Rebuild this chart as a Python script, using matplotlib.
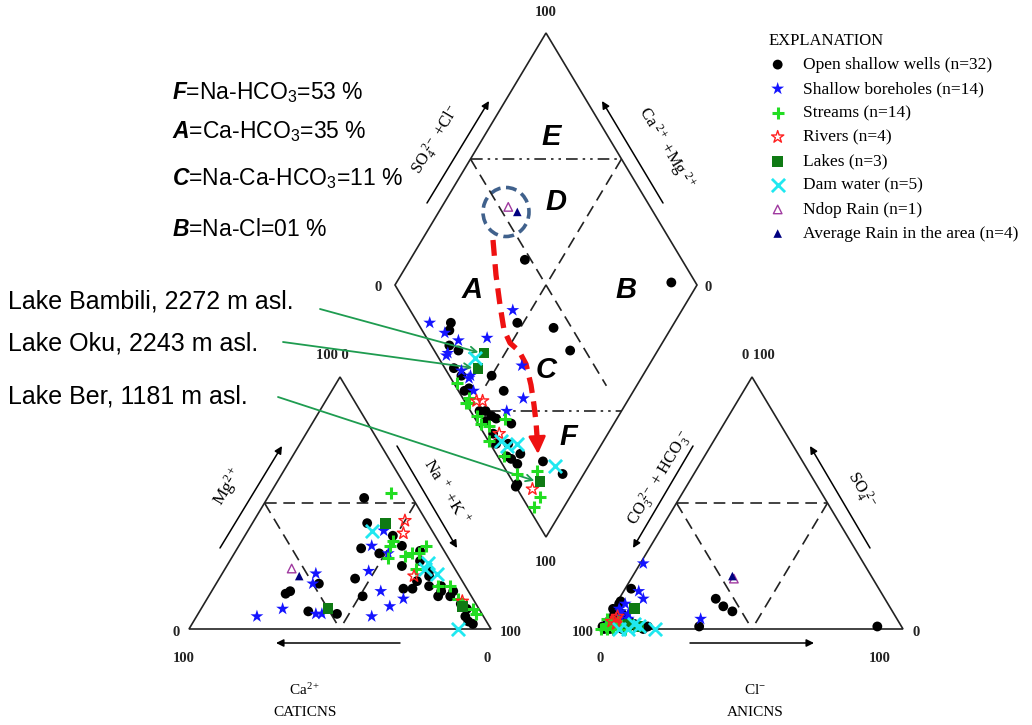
import matplotlib.pyplot as plt
from matplotlib.patches import Polygon, Ellipse
import numpy as np

plt.rcParams['mathtext.fontset'] = 'custom'
plt.rcParams['mathtext.rm'] = 'Liberation Serif'
plt.rcParams['mathtext.it'] = 'Liberation Serif:italic'
plt.rcParams['mathtext.sf'] = 'Liberation Sans'
plt.rcParams['mathtext.bf'] = 'Liberation Sans:italic:bold'

# ---- data (percent of meq) ----
# cation triangle: (Mg, Na+K)   anion triangle: (SO4, Cl)   diamond: (Ca+Mg, SO4+Cl)
wells_cat = [(52, 32), (42, 38), (32, 41), (20, 45), (13, 51), (18, 34), (15, 26), (14, 25),
             (7, 36), (6, 46), (30, 48), (37, 49), (33, 54), (31, 61), (27, 63), (25, 58),
             (16, 63), (16, 66), (17, 71), (17, 75), (15, 76), (13, 76), (13, 80), (3, 91),
             (2, 93), (5, 89), (23, 68), (21, 69), (19, 66), (15, 80), (10, 85), (8, 88)]
wells_an = [(16, 2), (11, 1), (10, 1), (8, 0), (7, 1), (5, 2), (3, 1), (2, 3), (1, 0), (2, 1),
            (1, 5), (0, 3), (1, 15), (0, 14), (1, 32), (1, 91), (12, 32), (9, 36), (7, 40),
            (6, 4), (4, 6), (3, 8), (0, 1), (1, 2), (2, 6), (4, 2), (3, 4), (0, 7), (5, 5),
            (2, 10), (6, 2), (1, 11)]
wells_dia = [(62, 48), (9, 92), (52, 33), (39, 44), (29, 45), (74, 11), (73, 9), (66, 8),
             (64, 3), (50, 14), (55, 4), (43, 15), (47, 3), (42, 6), (34, 11), (40, 7),
             (38, 3), (29, 3), (25, 8), (24, 5), (16, 14), (7, 18), (20, 0), (20, 1),
             (56, 2), (43, 3), (70, 6), (60, 4), (45, 5), (35, 2), (31, 6), (27, 4)]

bore_cat = [(33, 44), (23, 48), (5, 58), (22, 31), (18, 32), (8, 27), (5, 20), (6, 39),
            (6, 41), (39, 45), (30, 51), (15, 56), (12, 65), (9, 62)]
bore_an = [(26, 1), (15, 5), (12, 8), (8, 2), (7, 3), (4, 31), (5, 4), (3, 2), (6, 6),
           (2, 5), (10, 3), (1, 3), (4, 7), (2, 2)]
bore_dia = [(56, 34), (81, 4), (74, 7), (68, 10), (59, 20), (69, 3), (61, 5), (57, 6),
            (53, 5), (42, 26), (35, 20), (38, 12), (69, 4), (57, 7)]

stream_cat = [(54, 40), (33, 50), (28, 52), (29, 57), (30, 59), (33, 62), (24, 63), (17, 78),
              (12, 83), (8, 90), (17, 74), (35, 50), (30, 61), (6, 92)]
stream_an = [(0, 0), (0, 2), (4, 0), (2, 1), (1, 3), (3, 4), (1, 6), (2, 2), (0, 4), (1, 1),
             (3, 2), (0, 8), (2, 5), (1, 9)]
stream_dia = [(60, 1), (53, 0), (52, 1), (44, 1), (41, 3), (37, 10), (38, 0), (16, 10),
              (10, 6), (10, 2), (22, 3), (53, 2), (47, 1), (30, 2)]

river_cat = [(43, 50), (38, 52), (21, 64), (11, 85)]
river_an = [(4, 3), (3, 2), (2, 4), (5, 3)]
river_dia = [(50, 4), (48, 6), (36, 5), (14, 5)]

lake_cat = [(42, 44), (8, 42), (9, 86)]
lake_an = [(8, 7), (1, 12), (2, 8)]
lake_dia = [(57, 16), (56, 11), (13, 9)]   # Bambili, Oku, Ber

dam_cat = [(39, 41), (24, 66), (22, 71), (0, 89), (26, 66)]
dam_an = [(0, 6), (2, 10), (0, 18), (0, 9), (1, 12)]
dam_dia = [(59, 12), (34, 4), (28, 9), (11, 17), (31, 5)]

ndop_cat = [(24, 22)]
ndop_an = [(20, 34)]
ndop_dia = [(78, 53)]

rain_cat = [(21, 26)]
rain_an = [(21, 33)]
rain_dia = [(74, 55)]

labels = ["Open shallow wells (n=32)", "Shallow boreholes (n=14)", "Streams (n=14)",
          "Rivers (n=4)", "Lakes (n=3)", "Dam water (n=5)", "Ndop Rain (n=1)",
          "Average Rain in the area (n=4)"]
lake_names = ["Lake Bambili, 2272 m asl.", "Lake Oku, 2243 m asl.", "Lake Ber, 1181 m asl."]
zone_text = [("F", "=Na-$\\mathsf{HCO_3}$=53 %"), ("A", "=Ca-$\\mathsf{HCO_3}$=35 %"),
             ("C", "=Na-Ca-$\\mathsf{HCO_3}$=11 %"), ("B", "=Na-Cl=01 %")]

# ---- geometry (pixel space) ----
SIDE, HGT = 302, 252
CAT0 = (189, 629)
AN0 = (601, 629)
DIA0 = (546, 537)


def cat_xy(pts):
    p = np.array(pts, float)
    return CAT0[0] + SIDE / 100 * (p[:, 1] + p[:, 0] / 2), CAT0[1] - HGT / 100 * p[:, 0]


def an_xy(pts):
    p = np.array(pts, float)
    return AN0[0] + SIDE / 100 * (p[:, 1] + p[:, 0] / 2), AN0[1] - HGT / 100 * p[:, 0]


def dia_xy(pts):
    p = np.array(pts, float)
    return DIA0[0] + SIDE / 200 * (p[:, 1] - p[:, 0]), DIA0[1] - HGT / 100 * (p[:, 0] + p[:, 1])


fig = plt.figure(figsize=(10.32, 7.25), dpi=100)
ax = fig.add_axes([0, 0, 1, 1])
ax.set_xlim(0, 1032)
ax.set_ylim(725, 0)
ax.axis('off')

edge = dict(fill=False, ec='#222222', lw=1.2)
ax.add_patch(Polygon(np.column_stack(cat_xy([(0, 0), (100, 0), (0, 100)])), **edge))
ax.add_patch(Polygon(np.column_stack(an_xy([(0, 0), (100, 0), (0, 100)])), **edge))
ax.add_patch(Polygon(np.column_stack(dia_xy([(0, 0), (100, 0), (100, 100), (0, 100)])), **edge))

dash = dict(color='#222222', lw=1.2, ls=(0, (7, 4)))
dashdot = dict(color='#222222', lw=1.2, ls=(0, (7, 3, 1.5, 3, 1.5, 3)))
for seg in [[(50, 0), (50, 50)], [(50, 0), (0, 50)], [(50, 50), (0, 50)]]:
    ax.plot(*cat_xy(seg), **dash)
    ax.plot(*an_xy(seg), **dash)
for seg in [[(100, 50), (50, 50)], [(50, 100), (50, 50)], [(50, 50), (50, 10)], [(50, 50), (10, 50)]]:
    ax.plot(*dia_xy(seg), **dash)
ax.plot(*dia_xy([(100, 50), (50, 100)]), **dashdot)
ax.plot(*dia_xy([(44, 6), (0, 50)]), **dashdot)

# ---- samples ----
styles = [
    dict(marker='o', s=50, c='black', edgecolors='none'),
    dict(marker='*', s=95, c='#1414ff', edgecolors='none'),
    dict(marker='+', s=75, c='#22dd22', linewidths=2.2),
    dict(marker='*', s=85, facecolors='none', edgecolors='#ff2020', linewidths=1.0),
    dict(marker='s', s=60, c='#0f7a14', edgecolors='none'),
    dict(marker='x', s=90, c='#20e8f0', linewidths=2.0),
    dict(marker='^', s=38, facecolors='none', edgecolors='#a03aa0', linewidths=1.0),
    dict(marker='^', s=38, c='#000080', edgecolors='none'),
]
cats = [wells_cat, bore_cat, stream_cat, river_cat, lake_cat, dam_cat, ndop_cat, rain_cat]
ans = [wells_an, bore_an, stream_an, river_an, lake_an, dam_an, ndop_an, rain_an]
dias = [wells_dia, bore_dia, stream_dia, river_dia, lake_dia, dam_dia, ndop_dia, rain_dia]

handles = []
for i in range(len(labels)):
    h = ax.scatter(*cat_xy(cats[i]), zorder=3 + i, **styles[i])
    ax.scatter(*an_xy(ans[i]), zorder=3 + i, **styles[i])
    ax.scatter(*dia_xy(dias[i]), zorder=3 + i, **styles[i])
    handles.append(h)

leg = ax.legend(handles, labels, loc='upper left', bbox_to_anchor=(769 / 1032, 1 - 33 / 725),
                frameon=False, title='EXPLANATION', alignment='left', borderpad=0,
                borderaxespad=0, handlelength=1.0, handletextpad=0.95, labelspacing=0.46,
                scatterpoints=1, prop={'family': 'Liberation Serif', 'size': 12.5},
                title_fontproperties={'family': 'Liberation Serif', 'size': 12})

# ---- axis arrows ----
arr = dict(arrowstyle='-|>', color='black', lw=1.1, mutation_scale=11, shrinkA=0, shrinkB=0)
for a, b in [((220, 548), (282, 446)), ((397, 446), (457, 548)), ((400, 643), (276, 643)),
             ((693, 446), (633, 548)), ((870, 548), (810, 446)), ((690, 643), (814, 643)),
             ((427, 203), (489, 101)), ((663, 203), (602, 101))]:
    ax.annotate('', xy=b, xytext=a, arrowprops=arr)

serif = dict(family='Liberation Serif', ha='center', va='center')
ax.text(228, 487, 'Mg$^{2+}$', rotation=59, fontsize=12.5, **serif)
ax.text(447, 492, 'Na$^{\\ +}$ +K$^{\\ +}$', rotation=-59, fontsize=12.5, **serif)
ax.text(660, 478, 'CO$_3^{\\ 2-}$ + HCO$_3^{\\ -}$', rotation=59, fontsize=12, **serif)
ax.text(861, 490, 'SO$_4^{\\ 2-}$', rotation=-59, fontsize=12, **serif)
ax.text(437, 140, 'SO$_4^{\\ 2-}$ +Cl$^{-}$', rotation=59, fontsize=12, **serif)
ax.text(666, 148, 'Ca$^{\\ 2+}$ +Mg$^{\\ 2+}$', rotation=-59, fontsize=12, **serif)
ax.text(305, 690, 'Ca$^{2+}$', fontsize=11, **serif)
ax.text(305, 712, 'CATICNS', fontsize=11, **serif)
ax.text(755, 690, 'Cl$^{-}$', fontsize=11, **serif)
ax.text(755, 712, 'ANICNS', fontsize=11, **serif)

num = dict(family='Liberation Serif', fontsize=10.5, va='center', weight='bold', color='#222222')
for x, y, s, ha in [(546, 12, '100', 'center'), (378, 287, '0', 'center'), (708, 287, '0', 'center'),
                    (546, 563, '100', 'center'), (332, 355, '100 0', 'center'),
                    (758, 355, '0 100', 'center'), (176, 632, '0', 'center'),
                    (511, 632, '100', 'center'), (583, 632, '100', 'center'),
                    (916, 632, '0', 'center'), (184, 658, '100', 'center'),
                    (487, 658, '0', 'center'), (600, 658, '0', 'center'),
                    (880, 658, '100', 'center')]:
    ax.text(x, y, s, ha=ha, **num)

# ---- zone letters ----
zone = dict(family='Liberation Sans', fontsize=21, weight='bold', style='italic',
            ha='center', va='center')
for s, x, y in [('E', 551, 137), ('D', 556, 202), ('A', 472, 290), ('B', 626, 290),
                ('C', 546, 370), ('F', 568, 437)]:
    ax.text(x, y, s, **zone)

# ---- zone percentages ----
for (k, rest), y in zip(zone_text, [93, 132, 179, 229]):
    ax.text(172, y, '$\\mathbf{' + k + '}$' + rest, family='Liberation Sans', fontsize=16.5,
            ha='left', va='center')

# ---- rain circle and evolution arrow ----
ax.add_patch(Ellipse((506, 212), 46, 49, fill=False, ec='#40618c', lw=2.6, ls=(0, (3, 1.6))))
path_x = [493, 496, 500, 504, 510, 519, 526, 531, 534, 536, 537]
path_y = [240, 275, 305, 330, 343, 351, 364, 385, 405, 422, 436]
ax.plot(path_x, path_y, color='#ee1111', lw=3.8, ls=(0, (3, 1.6)), solid_capstyle='butt')
ax.annotate('', xy=(538, 454), xytext=(537, 434),
            arrowprops=dict(arrowstyle='-|>', color='#ee1111', lw=2, mutation_scale=26,
                            shrinkA=0, shrinkB=0))

# ---- lake labels ----
lx, ly = dia_xy(lake_dia)
for name, ty, sx, sy, i in [(lake_names[0], 301, 320, 309, 0), (lake_names[1], 343, 283, 342, 1),
                            (lake_names[2], 396, 278, 397, 2)]:
    ax.text(8, ty, name, family='Liberation Sans', fontsize=18, ha='left', va='center')
    ax.annotate('', xy=(lx[i] - 3, ly[i]), xytext=(sx, sy),
                arrowprops=dict(arrowstyle='->', color='#1e9c50', lw=1.3, mutation_scale=12,
                                shrinkA=0, shrinkB=2))

fig.savefig('out.png', dpi=100)
